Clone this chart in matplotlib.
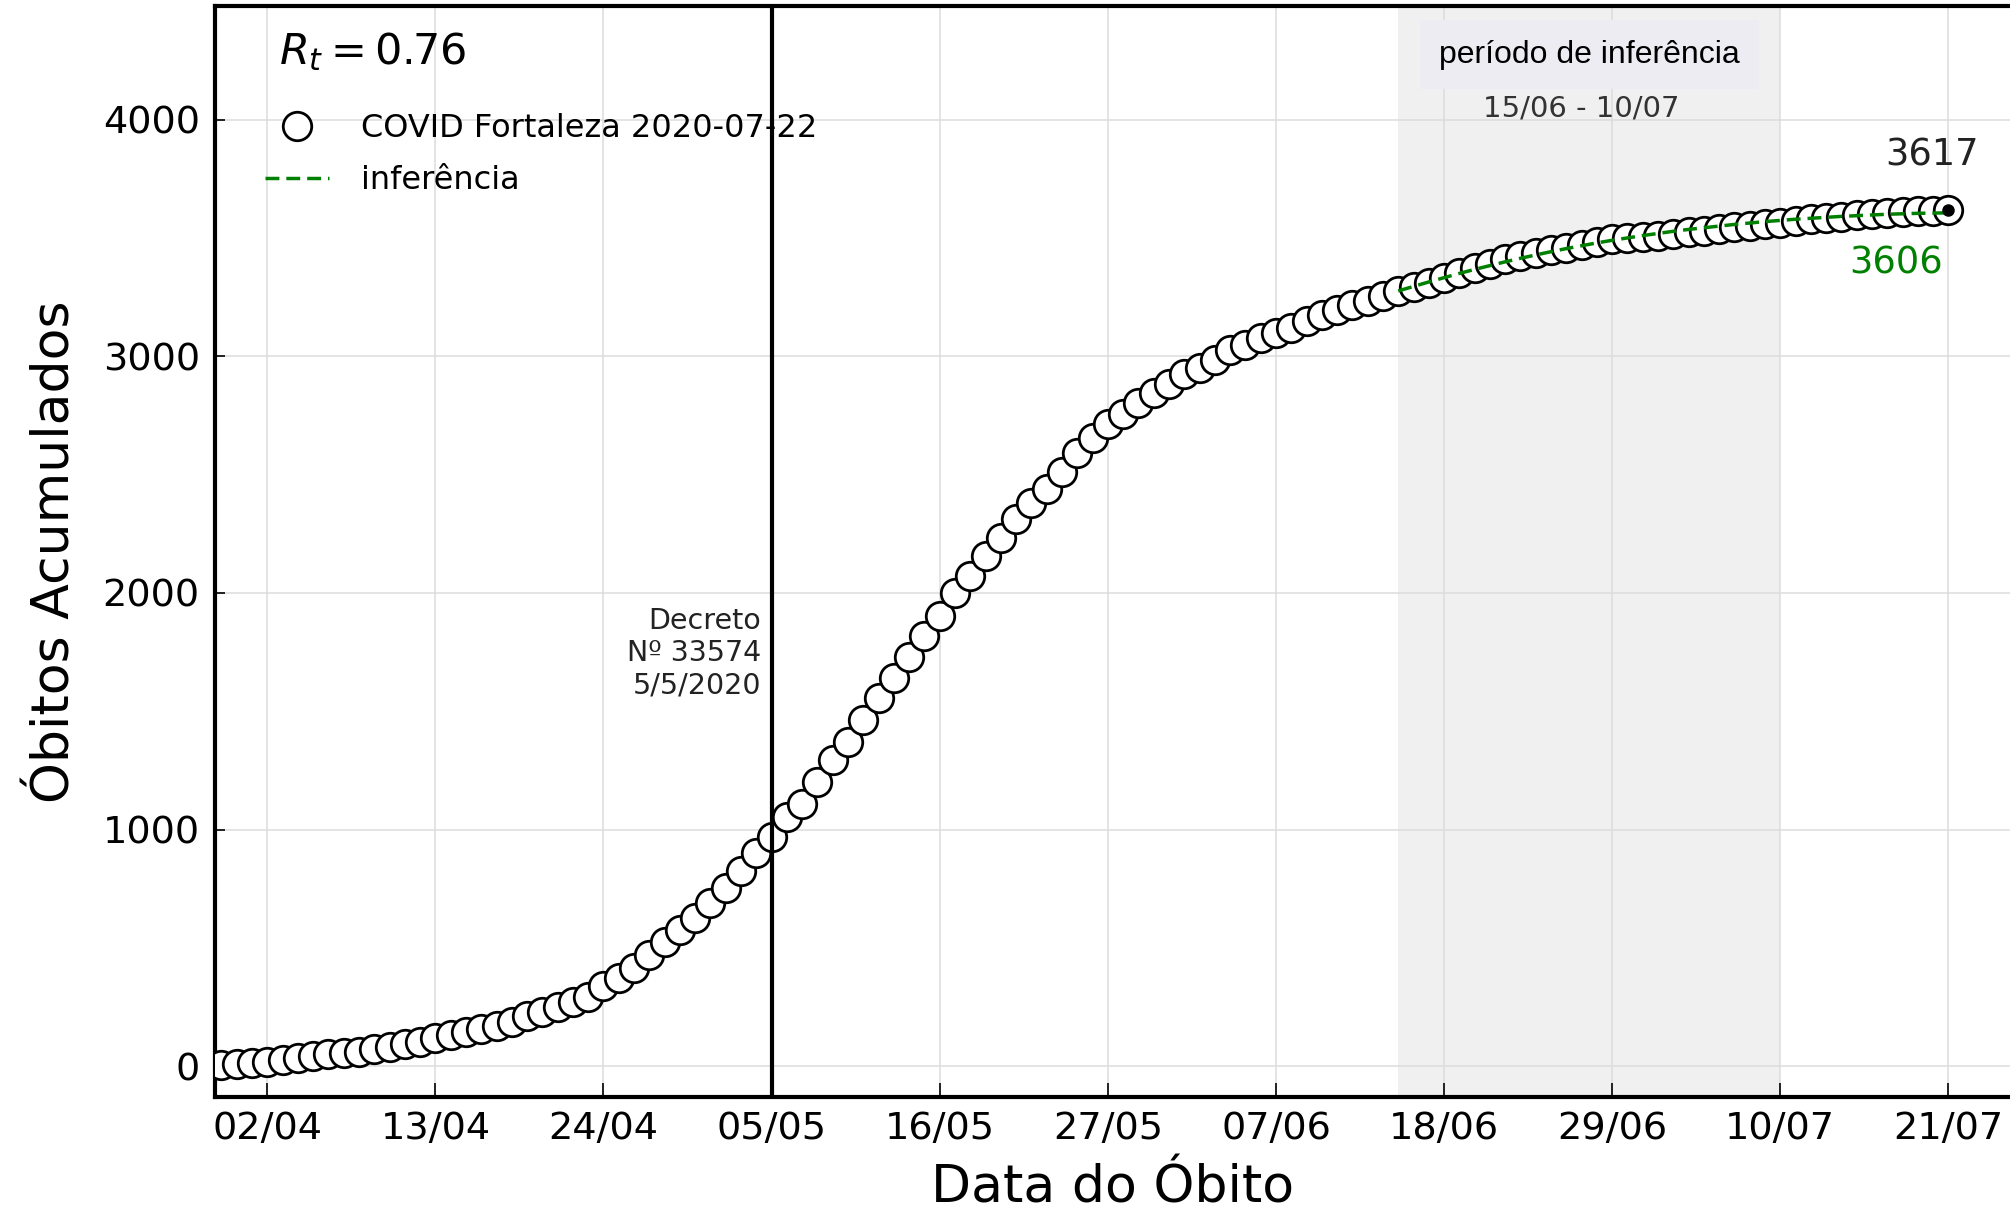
import pandas as pd
import matplotlib
matplotlib.use("Agg")
import matplotlib.pyplot as plt
import matplotlib.dates as mdates

# ---------- dados ----------
inicio_dados = "2020-03-30"
obitos_acumulados = [
    4, 8,
    # abril
    14, 18, 25, 33, 42, 51, 57, 61, 71, 82, 92, 103, 118, 132, 143,
    156, 170, 188, 212, 231, 252, 273, 294, 337, 372, 415, 471, 525, 575, 625,
    # maio
    690, 755, 825, 903, 967, 1052, 1108, 1200, 1292, 1370, 1462, 1554, 1642,
    1731, 1820, 1901, 2000, 2071, 2156, 2234, 2311, 2382, 2440, 2510, 2590,
    2655, 2712, 2754, 2803, 2845, 2881,
    # junho
    2923, 2951, 2986, 3028, 3049, 3077, 3098, 3120, 3148, 3176, 3197, 3218,
    3232, 3253, 3274, 3291, 3309, 3331, 3352, 3372, 3391, 3410, 3425, 3435,
    3448, 3457, 3469, 3484, 3494, 3499,
    # julho
    3505, 3510, 3516, 3524, 3531, 3539, 3546, 3552, 3558, 3564, 3571, 3579,
    3584, 3590, 3596, 3601, 3605, 3610, 3613, 3615, 3617,
]

inicio_inferencia = "2020-06-15"
inferencia = [
    3276, 3295, 3314, 3332, 3350, 3367, 3383, 3399, 3414, 3428, 3442, 3455,
    3467, 3479, 3490, 3500,
    3510, 3519, 3528, 3536, 3543, 3550, 3557, 3563, 3569, 3574, 3579, 3583,
    3587, 3591, 3594, 3597, 3600, 3602, 3604, 3605, 3606,
]

periodo_inferencia = ("2020-06-15", "2020-07-10")
data_decreto = "2020-05-05"
rt_valor = 0.76
y_ticks = [0, 1000, 2000, 3000, 4000]

datas = pd.date_range(inicio_dados, periods=len(obitos_acumulados), freq="D")
datas_inf = pd.date_range(inicio_inferencia, periods=len(inferencia), freq="D")
x_ticks = pd.date_range("2020-04-02", "2020-07-21", freq="11D")

# ---------- figura ----------
fig = plt.figure(figsize=(20.1, 12.17), dpi=100)
ax = fig.add_axes([215 / 2010, 120 / 1217, 1 - 215 / 2010, 1091 / 1217])

ax.axvspan(pd.Timestamp(periodo_inferencia[0]), pd.Timestamp(periodo_inferencia[1]),
           color="#f0f0f0", zorder=0, lw=0)
ax.grid(True, color="#dcdcdc", lw=1.1, zorder=1)
ax.set_axisbelow(True)

ax.plot(datas, obitos_acumulados, "o", ms=20.5, mfc="white", mec="black", mew=2.0,
        zorder=3, label="COVID Fortaleza 2020-07-22")
ax.plot(datas_inf, inferencia, color="green", lw=2.5, dashes=(4, 2), zorder=4,
        label="inferência")
ax.plot(datas[-1], obitos_acumulados[-1], "o", ms=8, color="black", zorder=5)

ax.axvline(pd.Timestamp(data_decreto), color="black", lw=3, zorder=4)
ax.text(pd.Timestamp(data_decreto) - pd.Timedelta(hours=16), 1745,
        "Decreto\nNº 33574\n5/5/2020", ha="right", va="center", multialignment="right",
        fontsize=20.5, color="#222222", zorder=6)

meio = pd.Timestamp(periodo_inferencia[0]) + (pd.Timestamp(periodo_inferencia[1]) -
                                              pd.Timestamp(periodo_inferencia[0])) / 2
ax.text(meio, 4275, "período de inferência", ha="center", va="center", fontsize=23,
        family="Liberation Sans", color="black", zorder=6,
        bbox=dict(facecolor="#ececf2", edgecolor="none", boxstyle="square,pad=0.6"))
ax.text(meio - pd.Timedelta(hours=12), 4048, "15/06 - 10/07", ha="center", va="center",
        fontsize=21, color="#333333", zorder=6)

ax.annotate(f"{obitos_acumulados[-1]}", xy=(datas[-1], obitos_acumulados[-1]),
            xytext=(-11.5, 40), textcoords="offset points", ha="center", va="center",
            fontsize=26.5, color="#222222")
ax.annotate(f"{inferencia[-1]}", xy=(datas_inf[-1], inferencia[-1]),
            xytext=(-38, -36), textcoords="offset points", ha="center", va="center",
            fontsize=26.5, color="green")

ax.text(0.0357, 0.958, f"$R_t = {rt_valor}$", transform=ax.transAxes,
        ha="left", va="center", fontsize=31)
ax.legend(loc="upper left", bbox_to_anchor=(0.0279, 0.902), frameon=False,
          borderpad=0, borderaxespad=0, fontsize=23, handlelength=2.0,
          handletextpad=1.0, labelspacing=0.65)

# ---------- eixos ----------
x0 = mdates.date2num(pd.Timestamp(inicio_dados)) - 0.42
x1 = mdates.date2num(pd.Timestamp("2020-07-25")) + 0.03
ax.set_xlim(x0, x1)
ax.set_ylim(-130, 4480)
ax.set_xticks(x_ticks)
ax.xaxis.set_major_formatter(mdates.DateFormatter("%d/%m"))
ax.set_yticks(y_ticks)

ax.tick_params(axis="x", direction="in", length=10, width=1.2, pad=10, labelsize=27.5)
ax.tick_params(axis="y", direction="in", length=7, width=1.2, pad=11, labelsize=27.5)
for s in ["left", "bottom", "top"]:
    ax.spines[s].set_linewidth(3)
    ax.spines[s].set_color("black")
ax.spines["right"].set_visible(False)

ax.set_xlabel("Data do Óbito", fontsize=37.5, labelpad=12)
ax.set_ylabel("Óbitos Acumulados", fontsize=37.5, labelpad=16)

fig.savefig("out.png", dpi=100)
